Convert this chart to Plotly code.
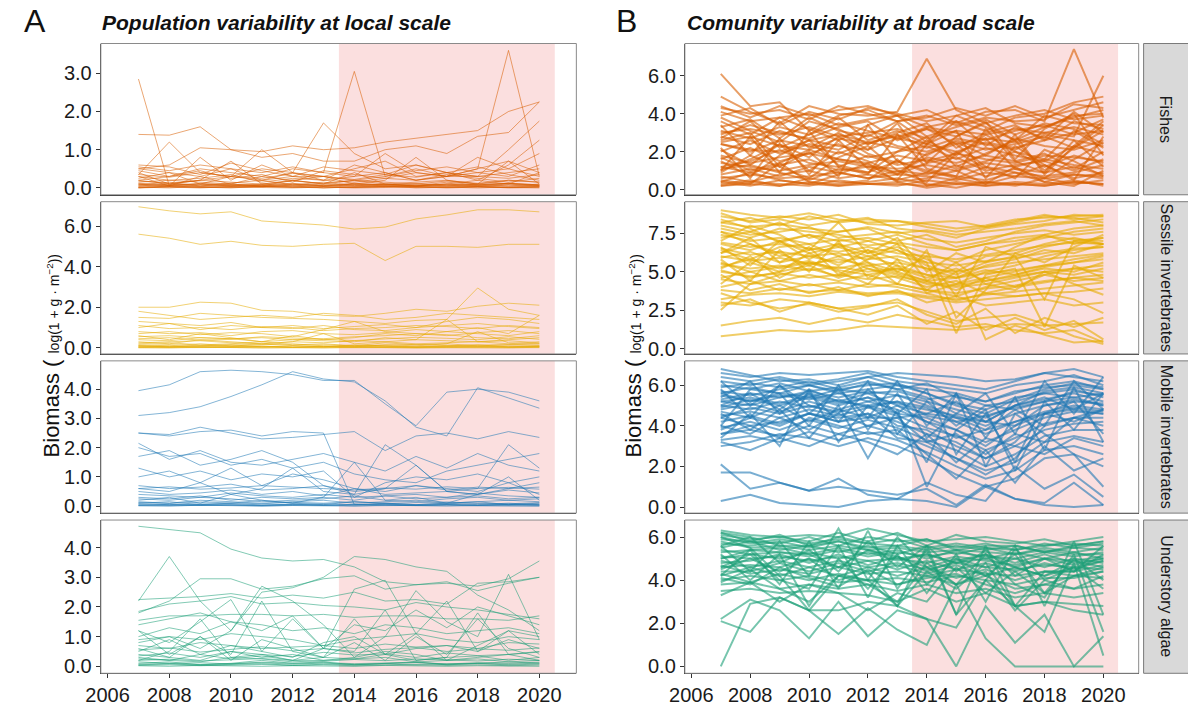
import plotly.graph_objects as go

# ---------------------------------------------------------------- data
YEARS = list(range(2007, 2021))
X_TICKS = [2006, 2008, 2010, 2012, 2014, 2016, 2018, 2020]
MHW_START, MHW_END = 2013.5, 2020.5

GROUPS = ["Fishes", "Sessile invertebrates", "Mobile invertebrates", "Understory algae"]

# population (local) series
FISH_LOCAL = [
    [2.85, 0.05, 0.10, 0.05, 0.10, 0.05, 0.10, 0.05, 0.10, 0.05, 0.10, 0.05, 0.10, 0.05],
    [1.40, 1.38, 1.60, 1.00, 0.95, 1.10, 1.00, 1.05, 1.20, 1.30, 1.40, 1.50, 2.00, 2.25],
    [0.55, 0.45, 0.60, 0.50, 0.40, 0.55, 0.40, 3.05, 0.30, 0.45, 0.55, 0.40, 0.50, 0.30],
    [0.20, 0.10, 0.20, 0.30, 0.20, 0.30, 0.20, 0.30, 0.40, 0.20, 0.30, 0.50, 3.60, 0.30],
    [0.35, 1.20, 0.40, 0.30, 0.50, 0.40, 1.70, 0.90, 0.50, 0.60, 0.40, 0.30, 1.00, 1.75],
    [0.50, 0.60, 1.05, 1.00, 0.80, 0.90, 0.70, 0.70, 1.00, 1.10, 0.90, 1.35, 1.45, 2.25],
    [0.30, 0.05, 0.80, 0.20, 0.60, 0.30, 0.30, 0.50, 0.70, 0.30, 0.40, 0.20, 0.60, 1.25],
    [0.45, 0.30, 0.50, 0.40, 0.30, 0.50, 0.40, 0.30, 0.90, 0.40, 0.30, 0.80, 0.50, 0.90],
    [0.25, 0.40, 0.30, 0.50, 0.20, 0.40, 0.30, 0.20, 0.30, 0.50, 0.30, 0.40, 0.30, 0.60],
    [0.15, 0.20, 0.15, 0.10, 0.30, 0.20, 0.10, 0.20, 0.10, 0.15, 0.20, 0.10, 0.20, 0.15],
    [0.60, 0.55, 0.35, 0.65, 0.45, 0.30, 0.55, 0.45, 0.35, 0.60, 0.40, 0.55, 0.35, 0.20],
    [0.10, 0.05, 0.30, 0.10, 0.05, 0.20, 0.10, 0.40, 0.10, 0.05, 0.10, 0.20, 0.10, 0.40],
    [0.05, 0.10, 0.05, 0.10, 0.05, 0.10, 0.05, 0.10, 0.05, 0.10, 0.05, 0.10, 0.05, 0.10],
    [0.30, 0.20, 0.25, 0.35, 0.15, 0.25, 0.20, 0.15, 0.25, 0.20, 0.35, 0.25, 0.15, 0.25],
    [0.00, 0.02, 0.00, 0.03, 0.01, 0.00, 0.02, 0.00, 0.01, 0.03, 0.00, 0.02, 0.01, 0.00],
    [0.02, 0.00, 0.04, 0.01, 0.03, 0.05, 0.00, 0.02, 0.04, 0.01, 0.02, 0.00, 0.03, 0.05],
    [0.40, 0.10, 0.20, 0.70, 0.10, 0.20, 0.30, 0.10, 0.20, 0.80, 0.20, 0.10, 0.70, 0.10],
    [0.08, 0.15, 0.05, 0.12, 0.20, 0.08, 0.15, 0.06, 0.10, 0.05, 0.15, 0.08, 0.12, 0.06],
    [0.50, 0.40, 0.10, 0.30, 1.00, 0.40, 0.20, 0.60, 0.40, 0.20, 0.30, 0.50, 0.70, 0.40],
    [0.20, 0.30, 0.45, 0.25, 0.35, 0.15, 0.45, 0.35, 0.25, 0.40, 0.30, 0.30, 0.40, 0.50],
    [0.00, 0.05, 0.02, 0.00, 0.04, 0.02, 0.00, 0.03, 0.05, 0.00, 0.02, 0.04, 0.00, 0.02],
    [0.12, 0.08, 0.10, 0.06, 0.09, 0.12, 0.05, 0.10, 0.08, 0.11, 0.07, 0.09, 0.12, 0.08],
    [0.03, 0.05, 0.02, 0.04, 0.06, 0.03, 0.05, 0.02, 0.04, 0.06, 0.03, 0.05, 0.02, 0.04],
    [0.07, 0.04, 0.08, 0.05, 0.03, 0.07, 0.04, 0.08, 0.05, 0.03, 0.07, 0.04, 0.08, 0.05],
    [0.18, 0.12, 0.20, 0.15, 0.10, 0.18, 0.12, 0.20, 0.15, 0.10, 0.18, 0.12, 0.20, 0.15],
    [0.01, 0.03, 0.01, 0.02, 0.04, 0.01, 0.03, 0.01, 0.02, 0.04, 0.01, 0.03, 0.01, 0.02],
    [0.35, 0.28, 0.40, 0.30, 0.25, 0.38, 0.30, 0.22, 0.35, 0.28, 0.40, 0.30, 0.25, 0.35],
    [0.10, 0.06, 0.12, 0.08, 0.05, 0.10, 0.06, 0.12, 0.08, 0.05, 0.10, 0.06, 0.12, 0.08],
]

SESSILE_LOCAL = [
    [6.95, 6.75, 6.60, 6.70, 6.25, 6.15, 6.05, 5.85, 5.95, 6.35, 6.55, 6.80, 6.80, 6.70],
    [5.60, 5.40, 5.10, 5.25, 5.05, 5.00, 5.10, 5.15, 4.30, 5.00, 5.00, 4.95, 5.10, 5.10],
    [2.00, 2.00, 2.25, 2.20, 1.85, 1.80, 1.60, 1.55, 1.70, 1.90, 1.80, 2.05, 2.20, 2.10],
    [1.50, 1.45, 1.70, 1.60, 1.50, 1.45, 1.40, 1.30, 1.20, 1.35, 1.40, 2.95, 1.90, 1.60],
    [1.00, 1.20, 0.90, 1.10, 1.00, 0.95, 1.10, 0.90, 0.85, 1.00, 1.30, 1.50, 1.40, 1.20],
    [0.70, 0.80, 0.65, 0.75, 0.70, 0.55, 0.90, 1.30, 0.80, 0.70, 0.60, 0.75, 0.85, 0.70],
    [0.40, 0.35, 0.50, 0.45, 0.30, 0.40, 0.35, 0.30, 0.50, 0.40, 0.35, 0.30, 0.40, 0.50],
    [0.20, 0.25, 0.15, 0.20, 0.30, 0.15, 0.20, 0.10, 0.25, 0.15, 0.20, 0.80, 0.25, 0.20],
    [0.10, 0.05, 0.10, 0.15, 0.05, 0.10, 0.05, 0.15, 0.10, 0.05, 0.10, 0.15, 0.05, 0.10],
    [0.02, 0.00, 0.03, 0.01, 0.00, 0.02, 0.00, 0.03, 0.01, 0.00, 0.02, 0.01, 0.00, 0.03],
    [0.55, 0.60, 0.50, 0.45, 0.50, 0.40, 0.45, 0.55, 0.60, 0.70, 0.65, 0.50, 0.45, 0.60],
    [1.30, 1.20, 1.10, 1.25, 1.00, 1.10, 0.95, 1.05, 1.15, 1.00, 1.10, 1.20, 1.05, 0.95],
    [0.30, 0.20, 0.40, 0.30, 0.20, 0.30, 0.70, 0.20, 0.30, 0.40, 1.40, 0.30, 0.20, 0.30],
    [0.80, 0.70, 0.75, 0.60, 0.80, 0.85, 0.70, 0.65, 0.75, 0.90, 0.80, 0.70, 0.60, 0.80],
    [0.15, 0.10, 0.20, 0.10, 0.15, 0.20, 0.10, 0.05, 0.15, 0.10, 0.20, 0.10, 0.15, 0.20],
    [0.05, 0.08, 0.04, 0.06, 0.09, 0.03, 0.07, 0.05, 0.08, 0.04, 0.06, 0.09, 0.05, 0.07],
    [0.25, 0.30, 0.35, 0.25, 0.20, 0.30, 0.25, 0.35, 0.30, 0.20, 0.25, 0.30, 0.35, 0.25],
    [0.00, 0.01, 0.00, 0.02, 0.00, 0.01, 0.00, 0.02, 0.01, 0.00, 0.01, 0.02, 0.00, 0.01],
    [0.60, 0.40, 0.70, 0.50, 0.30, 0.60, 0.40, 0.50, 0.70, 0.60, 0.80, 1.00, 0.70, 1.60],
    [1.80, 1.60, 1.40, 1.50, 1.60, 1.50, 1.70, 1.60, 1.40, 1.50, 1.70, 1.60, 1.50, 1.40],
    [0.04, 0.02, 0.05, 0.03, 0.06, 0.02, 0.04, 0.03, 0.05, 0.02, 0.04, 0.06, 0.03, 0.05],
    [0.12, 0.16, 0.10, 0.14, 0.18, 0.12, 0.15, 0.10, 0.13, 0.17, 0.11, 0.14, 0.16, 0.12],
    [0.45, 0.50, 0.38, 0.42, 0.55, 0.48, 0.40, 0.36, 0.44, 0.52, 0.47, 0.40, 0.55, 0.42],
    [0.08, 0.06, 0.09, 0.07, 0.05, 0.08, 0.06, 0.09, 0.07, 0.05, 0.08, 0.06, 0.09, 0.07],
    [1.10, 0.95, 1.00, 0.90, 1.05, 1.00, 0.85, 0.95, 1.00, 1.10, 1.05, 0.95, 1.10, 1.00],
]

MOBILE_LOCAL = [
    [3.95, 4.15, 4.60, 4.65, 4.60, 4.50, 4.30, 4.30, 3.50, 2.75, 3.90, 4.00, 3.90, 3.60],
    [3.10, 3.20, 3.40, 3.75, 4.15, 4.60, 4.35, 4.25, 3.60, 2.70, 2.40, 4.05, 3.70, 3.35],
    [2.50, 2.40, 2.55, 2.60, 2.40, 2.55, 2.50, 0.05, 0.10, 0.05, 0.10, 0.05, 0.10, 0.05],
    [2.50, 2.45, 2.70, 2.50, 2.30, 2.35, 2.45, 2.55, 1.90, 2.40, 2.50, 2.30, 2.55, 2.35],
    [2.15, 1.60, 1.90, 1.50, 1.40, 1.60, 1.80, 1.50, 1.20, 1.70, 1.30, 1.80, 1.40, 1.20],
    [1.70, 1.90, 1.40, 1.60, 1.90, 1.50, 0.70, 0.40, 2.10, 1.40, 0.50, 0.60, 2.10, 1.30],
    [1.30, 1.00, 1.20, 0.90, 1.10, 1.00, 1.20, 0.30, 0.80, 1.00, 0.90, 1.10, 0.80, 1.00],
    [0.70, 0.60, 0.65, 0.75, 0.55, 0.60, 0.70, 0.50, 0.60, 0.70, 0.55, 0.65, 0.60, 0.65],
    [0.50, 0.40, 0.45, 0.55, 0.40, 0.50, 0.35, 0.60, 0.40, 0.45, 0.50, 0.40, 0.55, 0.45],
    [0.30, 0.25, 0.35, 0.20, 0.30, 0.25, 0.30, 0.20, 0.35, 0.25, 0.30, 0.35, 0.25, 0.30],
    [0.10, 0.15, 0.05, 0.10, 0.20, 0.10, 0.05, 0.15, 0.10, 0.05, 0.10, 0.15, 0.05, 0.10],
    [0.02, 0.00, 0.03, 0.01, 0.00, 0.02, 0.01, 0.00, 0.03, 0.01, 0.00, 0.02, 0.01, 0.00],
    [0.20, 0.30, 0.10, 0.40, 0.20, 0.10, 0.30, 1.50, 0.20, 0.30, 0.10, 0.40, 1.00, 0.20],
    [0.60, 0.50, 0.80, 0.40, 0.60, 1.30, 0.50, 0.40, 0.60, 1.40, 0.50, 0.40, 0.60, 0.80],
    [0.05, 0.03, 0.06, 0.04, 0.02, 0.05, 0.03, 0.06, 0.04, 0.02, 0.05, 0.03, 0.06, 0.04],
    [0.40, 0.35, 0.30, 0.45, 0.35, 0.30, 0.40, 0.30, 0.35, 0.40, 0.30, 0.45, 0.35, 0.30],
    [0.15, 0.10, 0.20, 0.15, 0.10, 0.15, 0.20, 0.10, 0.15, 0.20, 0.10, 0.15, 0.20, 0.15],
    [1.00, 1.20, 0.80, 1.30, 0.70, 1.10, 0.90, 0.60, 0.50, 0.70, 0.60, 0.50, 0.80, 0.40],
    [0.08, 0.05, 0.07, 0.09, 0.04, 0.06, 0.08, 0.05, 0.07, 0.03, 0.06, 0.08, 0.04, 0.07],
    [0.25, 0.20, 0.30, 0.25, 0.15, 0.20, 0.25, 0.35, 0.20, 0.15, 0.25, 0.30, 0.20, 0.25],
    [0.03, 0.06, 0.02, 0.05, 0.03, 0.07, 0.02, 0.04, 0.06, 0.03, 0.05, 0.02, 0.06, 0.03],
    [0.12, 0.09, 0.14, 0.10, 0.08, 0.13, 0.10, 0.15, 0.09, 0.12, 0.14, 0.10, 0.08, 0.12],
    [0.60, 0.66, 0.58, 0.62, 0.70, 0.64, 0.60, 0.55, 0.62, 0.58, 0.66, 0.60, 0.64, 0.58],
    [0.01, 0.02, 0.01, 0.03, 0.01, 0.02, 0.04, 0.01, 0.02, 0.01, 0.03, 0.01, 0.02, 0.01],
    [2.00, 1.70, 1.80, 1.40, 1.60, 1.30, 1.50, 1.10, 0.90, 0.80, 1.20, 1.40, 1.60, 1.80],
]

ALGAE_LOCAL = [
    [4.72, 4.60, 4.50, 3.95, 3.65, 3.55, 3.60, 3.35, 2.85, 2.75, 2.85, 2.55, 2.80, 3.00],
    [2.20, 3.70, 2.20, 1.20, 2.50, 2.65, 3.00, 3.70, 3.60, 3.35, 3.20, 2.40, 1.90, 1.20],
    [1.80, 2.20, 2.95, 2.95, 2.60, 2.70, 2.95, 3.05, 2.60, 2.75, 2.80, 2.70, 2.95, 3.55],
    [2.25, 2.30, 2.35, 2.45, 2.30, 2.40, 2.30, 2.50, 2.20, 2.25, 2.10, 2.80, 2.85, 3.00],
    [1.55, 1.70, 1.70, 1.75, 1.75, 1.70, 1.75, 1.65, 1.70, 1.70, 1.60, 1.60, 1.55, 1.70],
    [1.85, 2.10, 2.20, 2.35, 2.10, 2.15, 2.05, 2.00, 1.90, 2.15, 2.00, 1.90, 1.75, 1.60],
    [0.90, 1.00, 0.60, 1.20, 2.70, 2.20, 1.40, 0.30, 1.00, 2.55, 1.50, 1.00, 3.10, 0.90],
    [1.20, 0.80, 1.50, 2.25, 0.50, 1.60, 0.60, 2.60, 2.90, 1.10, 2.20, 0.50, 1.20, 1.00],
    [0.50, 0.90, 0.40, 0.70, 0.50, 0.30, 0.80, 1.00, 0.40, 0.60, 0.70, 0.50, 0.90, 0.60],
    [0.30, 0.20, 0.40, 0.25, 0.35, 0.20, 0.30, 0.25, 0.40, 0.20, 0.30, 0.35, 0.20, 0.30],
    [0.10, 0.15, 0.05, 0.10, 0.20, 0.10, 0.15, 0.05, 0.10, 0.15, 0.05, 0.10, 0.15, 0.10],
    [0.02, 0.00, 0.03, 0.01, 0.00, 0.02, 0.01, 0.00, 0.03, 0.01, 0.00, 0.02, 0.01, 0.00],
    [1.00, 1.30, 1.10, 1.50, 1.40, 1.20, 1.30, 1.10, 1.40, 1.30, 1.10, 1.20, 1.30, 1.10],
    [0.70, 0.60, 0.80, 0.70, 0.60, 0.65, 0.70, 0.60, 0.75, 0.65, 0.70, 0.60, 0.80, 0.75],
    [0.20, 0.50, 1.60, 0.30, 0.40, 0.20, 0.60, 0.50, 1.90, 0.20, 0.30, 1.80, 0.40, 0.50],
    [0.40, 0.30, 0.20, 0.50, 0.30, 0.40, 0.20, 0.30, 0.50, 0.40, 0.20, 0.30, 0.40, 0.20],
    [0.05, 0.08, 0.04, 0.06, 0.09, 0.03, 0.07, 0.05, 0.08, 0.04, 0.06, 0.09, 0.05, 0.07],
    [1.40, 1.60, 1.80, 1.50, 1.20, 1.70, 0.60, 1.40, 1.20, 1.90, 1.30, 2.00, 1.70, 1.40],
    [0.25, 0.20, 0.15, 0.30, 0.25, 0.15, 0.20, 0.25, 0.30, 0.15, 0.20, 0.25, 0.15, 0.20],
    [0.15, 0.10, 0.12, 0.08, 0.14, 0.10, 0.12, 0.09, 0.11, 0.13, 0.08, 0.12, 0.10, 0.14],
    [0.60, 0.30, 1.00, 0.40, 2.20, 0.50, 0.30, 0.80, 0.20, 1.00, 0.40, 1.60, 0.60, 0.30],
    [0.80, 1.00, 0.90, 1.10, 1.00, 0.90, 0.70, 0.90, 1.00, 1.10, 0.90, 0.80, 1.00, 0.90],
    [0.03, 0.05, 0.02, 0.04, 0.06, 0.03, 0.05, 0.02, 0.04, 0.06, 0.03, 0.05, 0.02, 0.04],
    [0.20, 0.24, 0.18, 0.22, 0.26, 0.20, 0.17, 0.23, 0.19, 0.25, 0.21, 0.18, 0.24, 0.20],
    [0.35, 0.45, 0.30, 0.50, 0.40, 0.33, 0.47, 0.38, 0.42, 0.30, 0.45, 0.36, 0.40, 0.48],
    [0.07, 0.10, 0.06, 0.09, 0.12, 0.07, 0.11, 0.06, 0.09, 0.12, 0.08, 0.10, 0.07, 0.11],
    [1.20, 0.40, 1.00, 0.20, 0.90, 0.60, 0.30, 1.60, 0.40, 1.10, 0.20, 0.70, 1.20, 0.40],
    [0.55, 0.62, 0.48, 0.58, 0.66, 0.52, 0.60, 0.45, 0.57, 0.63, 0.50, 0.59, 0.54, 0.62],
]

# community (broad) series
FISH_BROAD = [
    [6.10, 4.40, 4.60, 3.10, 3.90, 4.20, 3.60, 3.90, 3.40, 3.80, 3.60, 3.70, 4.50, 4.30],
    [4.90, 4.10, 3.50, 4.40, 4.00, 3.90, 4.10, 6.90, 4.20, 3.50, 3.90, 4.20, 3.70, 3.90],
    [4.40, 3.80, 4.40, 3.90, 4.20, 4.40, 3.90, 4.20, 3.50, 4.10, 4.20, 3.60, 7.40, 3.80],
    [3.00, 3.20, 2.90, 3.30, 2.80, 3.00, 3.20, 2.70, 3.10, 2.90, 3.20, 3.00, 2.80, 6.00],
    [2.80, 2.40, 3.10, 2.60, 2.90, 2.50, 2.80, 3.20, 2.40, 2.70, 2.50, 3.00, 3.30, 2.90],
    [2.40, 2.00, 2.60, 2.30, 1.90, 2.50, 2.20, 1.80, 2.60, 2.10, 2.40, 2.80, 2.20, 3.40],
    [1.60, 2.20, 1.50, 1.90, 2.40, 1.70, 2.00, 2.30, 1.60, 2.20, 1.80, 1.50, 2.30, 1.90],
    [1.20, 1.50, 2.10, 1.40, 1.20, 1.80, 1.30, 1.60, 1.10, 1.50, 2.00, 1.20, 1.80, 1.40],
    [0.80, 1.10, 0.70, 1.20, 0.90, 0.60, 1.00, 0.80, 1.30, 0.70, 1.10, 0.90, 1.20, 0.80],
    [0.30, 0.50, 0.20, 0.60, 0.40, 0.30, 0.20, 0.50, 0.30, 0.40, 0.20, 0.60, 0.30, 0.50],
    [1.00, 2.80, 0.90, 3.10, 1.20, 0.80, 2.90, 1.10, 0.70, 3.20, 1.50, 0.90, 2.60, 1.20],
    [2.20, 0.60, 2.70, 0.80, 2.60, 1.10, 0.50, 2.40, 3.10, 0.60, 2.30, 1.30, 0.50, 2.80],
    [3.40, 1.80, 3.60, 2.20, 3.00, 2.10, 3.50, 1.40, 2.80, 3.60, 1.60, 3.20, 4.00, 1.80],
    [0.50, 0.30, 1.40, 0.40, 0.30, 0.50, 1.60, 0.20, 0.60, 0.30, 1.20, 0.40, 0.20, 1.00],
    [1.40, 1.20, 1.00, 1.30, 1.50, 1.20, 1.10, 1.30, 1.00, 1.40, 1.20, 1.60, 1.30, 1.10],
    [2.00, 2.60, 1.90, 2.40, 2.10, 2.90, 2.30, 2.00, 2.50, 1.80, 2.70, 2.30, 2.10, 2.60],
    [0.20, 0.40, 0.30, 0.20, 0.50, 0.30, 0.40, 0.10, 0.30, 0.20, 0.40, 0.30, 0.50, 0.20],
    [3.80, 3.10, 2.50, 3.60, 3.20, 2.40, 3.00, 3.50, 2.20, 3.00, 3.40, 2.60, 3.60, 3.20],
    [1.00, 1.60, 2.40, 1.00, 2.00, 1.50, 0.80, 1.90, 2.40, 1.20, 0.60, 2.10, 1.50, 0.70],
    [2.60, 3.00, 1.20, 2.00, 0.70, 3.40, 1.50, 0.90, 2.00, 1.10, 2.90, 0.80, 2.30, 3.60],
    [0.60, 0.80, 0.60, 0.70, 0.90, 0.60, 0.80, 0.70, 0.50, 0.90, 0.70, 0.60, 0.80, 0.70],
    [1.80, 1.40, 1.70, 1.90, 1.60, 1.40, 1.80, 1.50, 1.90, 1.60, 1.40, 1.80, 1.70, 1.50],
    [3.10, 2.70, 3.30, 2.90, 3.50, 3.10, 2.70, 3.30, 3.00, 2.60, 3.10, 3.40, 2.90, 3.10],
    [0.40, 0.20, 0.50, 0.30, 0.20, 0.40, 0.60, 0.30, 0.10, 0.40, 0.30, 0.20, 0.40, 0.30],
    [2.90, 3.40, 3.00, 2.70, 3.30, 3.60, 2.60, 3.20, 2.80, 3.50, 2.60, 3.30, 3.80, 4.20],
    [1.20, 0.90, 1.30, 1.60, 1.00, 1.20, 0.80, 1.40, 1.70, 1.00, 1.30, 1.50, 1.00, 1.60],
    [4.10, 3.60, 3.80, 4.00, 3.40, 3.70, 3.90, 3.30, 3.60, 3.10, 3.80, 4.00, 4.60, 4.90],
    [2.40, 2.10, 2.00, 2.60, 2.30, 2.10, 2.70, 2.40, 2.00, 2.50, 2.20, 2.60, 3.00, 3.70],
    [0.90, 1.80, 1.20, 0.60, 1.70, 2.30, 1.00, 0.40, 1.90, 2.70, 1.10, 0.60, 1.60, 2.50],
    [3.60, 2.90, 3.80, 3.20, 2.60, 3.40, 3.90, 2.80, 3.30, 3.70, 2.90, 3.50, 3.20, 2.40],
    [2.70, 3.60, 2.20, 2.90, 3.80, 2.60, 3.10, 2.40, 3.60, 2.30, 3.30, 2.70, 4.10, 3.00],
    [1.50, 0.70, 1.80, 2.60, 1.30, 0.90, 2.00, 2.80, 1.20, 1.90, 2.60, 1.00, 2.20, 3.10],
    [0.40, 0.90, 0.50, 0.30, 0.80, 1.40, 0.40, 0.60, 1.00, 0.30, 0.70, 1.30, 0.60, 0.90],
    [2.10, 1.30, 2.40, 1.70, 2.80, 1.90, 1.40, 2.60, 1.80, 2.90, 2.00, 1.60, 3.10, 2.20],
    [4.30, 4.00, 4.20, 3.70, 4.40, 4.00, 3.60, 3.80, 4.30, 3.90, 4.40, 3.80, 4.20, 4.60],
    [3.30, 3.70, 2.70, 3.80, 3.10, 2.80, 3.60, 2.50, 3.90, 3.30, 2.60, 3.90, 3.50, 3.40],
    [1.10, 1.30, 0.90, 0.50, 1.10, 0.90, 1.50, 1.00, 0.60, 1.20, 0.90, 0.70, 0.90, 1.30],
    [0.20, 0.30, 0.20, 0.40, 0.20, 0.30, 0.30, 0.20, 0.40, 0.20, 0.30, 0.20, 0.40, 0.30],
    [2.50, 2.80, 2.30, 2.10, 2.70, 2.40, 2.90, 2.20, 2.70, 2.40, 2.10, 2.90, 2.60, 2.30],
    [1.70, 1.00, 1.40, 2.10, 1.60, 1.30, 0.90, 1.70, 1.40, 1.80, 1.50, 1.90, 1.10, 2.00],
    [0.70, 0.40, 0.80, 1.00, 0.60, 0.80, 0.50, 0.90, 0.70, 0.50, 0.90, 0.40, 0.80, 0.60],
    [3.90, 4.30, 3.40, 4.10, 3.70, 4.30, 4.00, 3.60, 3.90, 4.30, 3.50, 3.30, 3.90, 4.00],
]

SESSILE_BROAD = [
    [9.00, 8.70, 8.50, 8.80, 8.40, 8.20, 8.30, 8.10, 7.80, 8.00, 8.40, 8.50, 8.60, 8.70],
    [8.60, 8.30, 8.60, 8.40, 8.70, 8.10, 8.00, 8.20, 8.30, 7.90, 8.20, 8.60, 8.50, 8.20],
    [8.20, 7.90, 8.10, 7.80, 7.60, 7.90, 7.50, 7.70, 7.40, 7.60, 7.80, 8.10, 8.30, 8.00],
    [7.80, 7.40, 7.60, 7.90, 7.20, 7.40, 7.60, 7.10, 6.90, 7.20, 7.50, 7.70, 7.40, 7.60],
    [7.40, 7.00, 7.20, 6.80, 7.10, 6.70, 6.90, 6.60, 6.40, 6.80, 7.00, 7.30, 7.10, 7.00],
    [6.90, 6.60, 6.80, 6.50, 6.30, 6.60, 6.20, 6.00, 5.80, 6.10, 6.40, 6.70, 6.90, 6.80],
    [6.50, 6.10, 6.30, 6.00, 6.20, 5.80, 6.00, 5.60, 5.40, 5.70, 5.90, 6.20, 6.50, 6.60],
    [6.00, 5.70, 5.90, 5.50, 5.80, 5.40, 5.60, 5.20, 5.00, 5.30, 5.60, 5.80, 6.00, 6.20],
    [5.50, 5.20, 5.40, 5.10, 5.30, 5.00, 5.20, 4.80, 4.60, 4.90, 5.10, 5.40, 5.60, 5.80],
    [5.00, 4.70, 4.90, 4.60, 4.80, 4.50, 4.70, 4.30, 4.10, 4.40, 4.70, 5.00, 5.20, 5.40],
    [4.50, 4.20, 4.40, 4.10, 4.30, 4.00, 4.20, 3.80, 3.60, 3.90, 4.10, 4.40, 4.60, 4.80],
    [3.80, 3.60, 3.90, 3.70, 3.80, 3.60, 3.70, 3.40, 3.20, 3.50, 3.70, 3.90, 4.10, 4.30],
    [3.20, 3.50, 3.60, 3.40, 3.70, 3.50, 3.60, 3.30, 3.00, 3.20, 3.40, 3.60, 3.70, 3.90],
    [2.50, 4.20, 4.80, 5.20, 4.70, 5.40, 4.90, 4.40, 4.60, 5.10, 4.80, 5.30, 5.60, 6.00],
    [0.80, 1.00, 1.20, 1.10, 1.20, 1.50, 1.40, 1.30, 1.20, 1.40, 1.60, 1.50, 1.60, 1.70],
    [7.60, 6.80, 6.20, 5.40, 6.00, 5.20, 4.60, 4.00, 4.40, 3.60, 3.40, 3.60, 3.20, 2.30],
    [8.40, 7.80, 6.90, 7.40, 6.60, 7.00, 6.40, 5.60, 1.00, 4.80, 5.20, 1.40, 5.40, 4.60],
    [6.20, 7.20, 5.60, 6.60, 4.80, 5.80, 6.80, 4.40, 5.60, 4.20, 3.80, 5.00, 4.20, 3.50],
    [5.80, 4.40, 6.40, 5.00, 7.00, 4.60, 5.40, 3.80, 5.00, 0.60, 1.50, 0.90, 0.40, 0.50],
    [4.20, 5.60, 5.00, 6.20, 5.40, 6.40, 5.00, 6.00, 3.40, 6.60, 6.00, 3.20, 7.00, 6.80],
    [7.00, 8.00, 7.40, 6.40, 8.20, 6.20, 7.20, 5.00, 6.20, 5.60, 6.60, 7.40, 6.80, 7.20],
    [3.00, 2.80, 3.20, 3.00, 2.60, 2.80, 3.00, 2.40, 1.80, 2.00, 2.20, 1.60, 0.80, 0.30],
    [5.20, 6.00, 4.60, 5.60, 5.00, 4.20, 5.80, 3.60, 4.20, 4.60, 4.00, 4.80, 4.40, 4.60],
    [6.60, 5.40, 7.00, 5.80, 6.80, 5.60, 4.20, 6.40, 2.00, 3.80, 6.20, 5.60, 6.60, 7.40],
    [4.80, 3.80, 4.20, 3.60, 4.00, 3.40, 3.80, 3.00, 3.40, 2.80, 3.00, 3.20, 2.80, 3.00],
    [8.00, 7.60, 8.20, 7.20, 7.60, 7.80, 7.00, 7.40, 6.60, 7.00, 7.60, 8.00, 8.20, 8.40],
    [3.60, 3.00, 2.60, 2.90, 2.40, 2.70, 3.20, 2.20, 1.60, 2.60, 1.00, 2.00, 1.40, 2.00],
    [5.60, 5.00, 5.30, 5.70, 5.10, 4.80, 5.20, 4.60, 5.20, 4.40, 4.80, 5.20, 5.00, 5.60],
    [8.80, 8.20, 8.40, 8.00, 8.30, 8.50, 7.80, 7.60, 7.20, 7.80, 8.10, 8.30, 8.70, 8.60],
    [7.20, 7.60, 7.00, 7.40, 7.00, 7.20, 6.80, 6.20, 5.60, 6.40, 6.80, 7.20, 7.60, 7.80],
    [6.80, 6.40, 7.00, 6.20, 6.60, 6.00, 6.40, 5.40, 4.80, 5.60, 6.00, 6.60, 7.00, 7.20],
    [5.90, 6.30, 5.60, 6.00, 5.60, 6.00, 5.40, 4.80, 4.20, 5.00, 5.40, 6.00, 6.40, 6.60],
    [5.30, 5.80, 5.20, 5.60, 5.20, 5.60, 5.00, 4.40, 3.80, 4.60, 5.00, 5.40, 5.80, 6.10],
    [4.60, 5.00, 4.40, 4.80, 4.40, 4.80, 4.20, 3.80, 3.40, 4.00, 4.40, 4.80, 5.20, 5.00],
    [4.00, 4.40, 3.80, 4.20, 3.80, 4.20, 4.00, 3.60, 3.10, 3.60, 4.00, 4.30, 4.60, 4.40],
    [7.60, 7.20, 7.80, 7.60, 7.40, 7.00, 7.40, 6.80, 6.40, 6.80, 7.20, 7.40, 7.80, 8.00],
    [6.40, 5.80, 6.60, 6.80, 6.00, 6.40, 5.80, 5.20, 4.60, 5.40, 5.80, 6.40, 6.20, 6.80],
    [5.10, 4.60, 5.00, 5.40, 4.60, 5.20, 4.80, 4.20, 4.00, 4.20, 4.60, 5.00, 4.80, 5.20],
    [2.80, 3.20, 2.40, 3.00, 2.60, 2.20, 2.80, 1.60, 2.40, 1.20, 2.00, 1.20, 1.80, 0.60],
    [1.50, 1.80, 2.00, 1.60, 2.00, 1.70, 2.20, 1.80, 1.40, 1.60, 1.20, 1.00, 1.20, 0.40],
    [8.20, 8.50, 8.00, 8.60, 8.20, 8.40, 8.30, 7.90, 7.60, 7.90, 8.30, 8.70, 8.40, 8.60],
    [6.20, 6.80, 6.00, 6.40, 6.80, 6.20, 6.60, 5.80, 5.00, 6.00, 6.20, 6.80, 7.20, 6.80],
]

MOBILE_BROAD = [
    [6.80, 6.50, 6.20, 6.30, 6.00, 6.40, 6.60, 6.50, 6.40, 6.20, 6.30, 6.60, 6.40, 6.20],
    [6.40, 6.20, 6.40, 6.10, 6.30, 6.60, 6.20, 6.00, 5.80, 5.60, 6.00, 6.20, 6.50, 6.00],
    [6.00, 5.80, 6.10, 5.70, 5.90, 6.20, 5.80, 6.10, 5.40, 5.20, 5.70, 5.90, 6.00, 5.80],
    [5.70, 5.50, 5.80, 6.00, 5.60, 5.80, 6.00, 5.60, 5.10, 4.80, 5.40, 5.60, 5.80, 5.40],
    [5.50, 5.20, 5.50, 5.30, 5.60, 5.20, 5.50, 5.20, 4.80, 4.40, 5.00, 5.30, 5.60, 5.20],
    [5.20, 5.40, 5.10, 5.50, 5.10, 5.40, 5.10, 4.80, 4.50, 4.00, 4.60, 5.00, 5.30, 5.00],
    [5.00, 4.80, 5.20, 4.90, 5.30, 4.90, 5.20, 4.50, 4.20, 3.60, 4.20, 4.70, 5.00, 4.80],
    [4.80, 5.10, 4.70, 5.20, 4.80, 5.20, 4.80, 4.20, 3.80, 3.20, 3.80, 4.40, 4.70, 4.60],
    [4.50, 4.70, 4.40, 4.80, 4.50, 4.90, 4.50, 3.90, 3.50, 2.80, 3.40, 4.10, 4.40, 4.40],
    [4.20, 4.50, 4.10, 4.60, 4.20, 4.60, 4.20, 3.60, 3.20, 2.40, 3.00, 3.80, 4.10, 4.20],
    [3.90, 4.20, 3.80, 4.30, 3.90, 4.30, 3.90, 3.30, 2.80, 2.00, 2.60, 3.50, 3.80, 3.80],
    [3.60, 3.80, 3.50, 4.00, 3.60, 4.00, 3.60, 3.00, 2.40, 1.80, 2.20, 3.20, 3.50, 3.20],
    [3.30, 3.50, 3.20, 3.70, 3.30, 3.70, 3.30, 2.70, 2.00, 1.40, 1.80, 2.80, 3.00, 2.60],
    [3.00, 3.20, 3.60, 3.40, 3.00, 3.40, 3.00, 2.40, 1.60, 1.00, 1.40, 2.40, 2.60, 2.00],
    [2.10, 0.90, 1.20, 0.80, 1.40, 0.60, 0.40, 1.20, 0.60, 0.30, 2.00, 0.90, 1.60, 0.50],
    [1.70, 1.70, 1.20, 0.80, 1.00, 0.80, 0.60, 0.90, 0.10, 1.10, 0.40, 0.20, 1.20, 0.10],
    [0.30, 0.60, 0.20, 0.10, 0.00, 0.30, 0.40, 0.30, 0.00, 1.00, 0.40, 0.10, 0.00, 0.10],
    [6.20, 5.00, 6.00, 4.60, 5.80, 4.40, 6.20, 4.00, 5.60, 3.40, 5.40, 2.80, 5.90, 3.20],
    [5.40, 6.20, 4.60, 5.60, 4.20, 5.80, 4.60, 5.80, 2.60, 4.60, 2.20, 5.20, 3.80, 5.60],
    [4.00, 5.80, 5.60, 4.00, 6.00, 3.80, 5.60, 3.40, 4.60, 5.60, 3.60, 6.20, 4.60, 6.40],
    [5.80, 4.40, 6.00, 5.00, 4.60, 6.20, 3.60, 5.20, 4.00, 5.00, 4.80, 4.00, 6.20, 4.80],
    [3.40, 4.60, 3.00, 5.80, 3.20, 5.00, 4.60, 2.20, 5.60, 2.00, 4.60, 3.60, 2.60, 1.00],
    [4.60, 3.80, 4.80, 3.40, 5.00, 2.40, 4.80, 1.00, 3.80, 4.80, 1.80, 4.60, 5.20, 3.60],
    [5.60, 5.20, 5.60, 5.40, 5.80, 5.60, 5.70, 5.30, 5.50, 5.00, 5.20, 5.60, 5.40, 5.60],
    [4.40, 4.00, 4.20, 4.60, 4.20, 4.40, 4.40, 4.60, 4.40, 4.20, 4.00, 4.60, 4.80, 4.60],
    [3.20, 2.80, 3.40, 3.00, 3.60, 3.20, 2.60, 3.60, 2.20, 3.40, 3.00, 2.60, 3.40, 3.00],
    [6.60, 6.40, 6.60, 6.50, 6.60, 6.70, 6.40, 6.20, 6.00, 5.80, 6.20, 6.60, 6.80, 6.40],
    [5.90, 6.10, 5.90, 6.20, 5.80, 6.00, 6.10, 5.60, 5.00, 4.60, 5.30, 5.80, 6.10, 5.90],
    [5.30, 5.60, 5.40, 5.70, 5.40, 5.70, 5.50, 5.00, 4.40, 3.80, 4.80, 5.20, 5.70, 5.50],
    [4.90, 5.30, 5.00, 5.40, 5.00, 5.40, 4.60, 4.40, 3.80, 3.00, 4.00, 5.00, 5.20, 5.10],
    [4.40, 4.90, 4.60, 5.00, 4.70, 5.00, 4.00, 3.80, 3.00, 2.40, 3.20, 4.60, 4.90, 4.70],
    [3.80, 4.40, 4.00, 4.60, 4.40, 4.60, 3.40, 3.20, 2.40, 1.60, 2.40, 4.00, 4.40, 4.00],
    [6.20, 6.00, 6.30, 6.00, 6.20, 6.40, 6.00, 5.80, 5.60, 5.20, 5.60, 6.00, 6.20, 5.80],
    [5.00, 5.60, 4.80, 5.80, 5.20, 5.60, 5.00, 4.60, 5.20, 4.20, 5.00, 5.40, 4.80, 5.60],
    [4.00, 3.60, 4.40, 3.80, 4.60, 4.00, 4.40, 3.20, 3.60, 2.60, 3.60, 3.20, 4.40, 4.80],
    [5.60, 5.90, 5.60, 6.00, 5.70, 6.10, 5.80, 5.40, 4.60, 4.20, 5.00, 5.70, 5.90, 5.60],
    [3.60, 4.00, 3.40, 4.40, 4.00, 3.60, 3.80, 2.60, 1.40, 2.80, 1.20, 3.00, 1.80, 2.40],
    [4.70, 4.40, 5.00, 4.20, 4.80, 4.40, 5.00, 4.20, 3.40, 3.80, 4.20, 4.60, 4.20, 4.80],
    [5.20, 5.00, 5.40, 5.60, 5.20, 5.00, 5.20, 4.90, 4.20, 4.50, 4.90, 5.20, 5.40, 5.00],
]

ALGAE_BROAD = [
    [6.30, 6.10, 6.00, 6.10, 6.00, 6.40, 6.10, 5.80, 5.90, 6.00, 5.80, 5.60, 5.80, 6.00],
    [6.10, 5.90, 6.00, 5.80, 6.20, 5.80, 6.20, 5.60, 6.10, 5.80, 5.70, 5.90, 5.60, 5.80],
    [5.90, 5.80, 5.70, 6.00, 5.60, 6.00, 5.80, 5.90, 5.50, 5.70, 5.40, 5.60, 5.70, 5.60],
    [5.70, 5.60, 5.80, 5.50, 5.80, 5.50, 5.60, 5.40, 5.60, 5.40, 5.60, 5.30, 5.50, 5.40],
    [5.50, 5.80, 5.40, 5.60, 5.30, 5.60, 5.20, 5.60, 5.20, 5.50, 5.20, 5.40, 5.20, 5.20],
    [5.30, 5.40, 5.50, 5.20, 5.50, 5.20, 5.40, 5.00, 5.40, 5.00, 5.30, 5.00, 5.30, 5.00],
    [5.00, 5.20, 5.00, 5.30, 5.00, 5.30, 4.90, 5.20, 4.80, 5.20, 4.80, 5.20, 4.80, 5.00],
    [4.80, 4.90, 5.20, 4.80, 5.20, 4.70, 5.10, 4.60, 5.00, 4.60, 5.00, 4.60, 5.00, 4.80],
    [4.60, 4.70, 4.60, 5.00, 4.60, 4.90, 4.50, 4.90, 4.50, 4.80, 4.40, 4.80, 4.50, 4.90],
    [4.40, 4.40, 4.80, 4.40, 4.80, 4.40, 4.70, 4.30, 4.70, 4.20, 4.60, 4.20, 4.60, 4.50],
    [4.20, 4.60, 4.20, 4.60, 4.20, 4.60, 4.20, 4.60, 4.10, 4.50, 4.00, 4.40, 4.20, 4.40],
    [4.00, 4.20, 4.00, 4.20, 3.90, 4.00, 3.80, 4.20, 3.80, 4.20, 3.60, 3.80, 3.60, 3.80],
    [3.80, 3.90, 3.60, 3.80, 3.60, 3.80, 3.50, 3.80, 3.40, 3.60, 3.20, 3.40, 3.20, 3.40],
    [3.50, 3.60, 3.40, 3.50, 3.40, 3.30, 3.00, 3.60, 3.00, 3.40, 2.80, 3.00, 2.90, 2.80],
    [0.00, 2.90, 3.20, 2.60, 2.60, 3.00, 2.80, 2.20, 1.80, 4.00, 2.80, 3.00, 2.60, 2.40],
    [2.10, 1.60, 3.20, 2.60, 1.50, 2.70, 1.70, 1.00, 3.80, 1.30, 0.00, 0.00, 0.00, 0.00],
    [2.20, 3.10, 2.60, 1.30, 3.00, 1.40, 2.60, 2.20, 0.00, 2.80, 1.10, 2.40, 0.00, 1.40],
    [6.00, 5.50, 4.20, 2.60, 4.20, 4.00, 2.80, 5.60, 2.40, 5.60, 2.80, 1.60, 4.80, 0.50],
    [5.60, 4.40, 5.80, 4.20, 6.40, 4.00, 6.00, 4.60, 3.80, 5.20, 3.80, 3.20, 5.20, 1.60],
    [4.20, 5.40, 3.80, 5.80, 3.60, 6.30, 3.60, 5.40, 2.40, 4.00, 5.60, 2.80, 5.80, 2.40],
    [5.20, 4.00, 5.20, 2.80, 5.00, 3.60, 5.20, 3.40, 5.20, 3.00, 5.50, 4.00, 3.60, 4.20],
    [4.50, 5.00, 4.40, 5.00, 4.00, 4.40, 2.80, 4.40, 3.60, 4.80, 2.80, 4.40, 4.40, 5.20],
    [3.30, 3.90, 3.00, 3.80, 3.40, 2.60, 3.40, 3.00, 4.60, 3.40, 4.40, 3.40, 4.20, 4.60],
    [6.20, 6.00, 5.60, 5.60, 5.80, 5.40, 5.00, 5.20, 4.80, 5.00, 4.60, 5.00, 4.70, 5.00],
    [6.00, 5.70, 5.90, 5.70, 5.90, 5.70, 5.90, 5.50, 5.70, 5.50, 5.40, 5.70, 5.50, 5.70],
    [5.80, 5.50, 5.60, 5.40, 5.60, 5.40, 5.50, 5.30, 5.40, 5.30, 5.20, 5.50, 5.30, 5.50],
    [5.40, 5.20, 5.30, 5.10, 5.40, 5.10, 5.30, 5.10, 5.30, 5.10, 5.00, 5.30, 5.10, 5.30],
    [5.10, 5.00, 5.10, 4.90, 5.10, 4.90, 5.00, 4.80, 5.10, 4.90, 4.70, 5.00, 4.90, 5.10],
    [4.90, 4.60, 4.90, 4.60, 4.90, 4.60, 4.80, 4.50, 4.80, 4.60, 4.50, 4.70, 4.60, 4.90],
    [4.70, 4.30, 4.50, 4.30, 4.60, 4.30, 4.40, 4.20, 4.50, 4.30, 4.20, 4.40, 4.40, 4.70],
    [4.30, 3.90, 4.30, 4.00, 4.30, 4.00, 4.10, 3.90, 4.20, 4.00, 3.80, 4.10, 4.10, 4.40],
    [5.60, 6.00, 4.80, 5.40, 4.40, 5.80, 4.60, 5.60, 4.40, 5.40, 4.20, 5.00, 4.40, 5.60],
    [4.60, 5.20, 4.00, 3.60, 5.60, 3.20, 5.60, 3.80, 5.00, 4.20, 5.20, 3.40, 5.00, 4.00],
    [6.20, 5.80, 6.10, 5.60, 6.00, 5.70, 5.60, 5.90, 5.40, 5.60, 5.60, 5.30, 5.60, 5.80],
    [3.90, 4.50, 3.60, 3.00, 4.20, 3.80, 3.00, 4.80, 3.80, 4.40, 2.60, 4.00, 4.60, 3.60],
    [5.00, 5.40, 5.30, 5.20, 4.60, 5.40, 5.10, 4.40, 4.90, 5.20, 4.60, 4.20, 4.90, 4.60],
    [4.10, 3.80, 4.60, 4.10, 3.70, 4.50, 3.80, 4.10, 4.30, 3.80, 3.40, 3.80, 4.20, 4.10],
]

# y ticks and ranges per panel (column A: local, column B: broad)
Y_TICKS_LOCAL = [[0, 1, 2, 3], [0, 2, 4, 6], [0, 1, 2, 3, 4], [0, 1, 2, 3, 4]]
Y_TICKS_BROAD = [[0, 2, 4, 6], [0, 2.5, 5, 7.5], [0, 2, 4, 6], [0, 2, 4, 6]]
Y_RANGE_LOCAL = [[-0.18, 3.78], [-0.30, 7.20], [-0.24, 4.97], [-0.235, 4.93]]
Y_RANGE_BROAD = [[-0.27, 7.70], [-0.35, 9.55], [-0.30, 7.20], [-0.32, 6.79]]

COLORS = ["217,95,2", "230,171,2", "31,120,180", "27,158,119"]

# ---------------------------------------------------------------- layout geometry
W, H = 1188, 706
FONT = "Liberation Sans, Arial, Helvetica, sans-serif"
COL_X = [(86, 568), (678, 1138)]
ROW_Y = [(44, 197), (204, 358), (365, 519), (526, 681)]
X_RANGE = [2005.78, 2021.2]


def px(x):
    return x / W


def py(y):
    return 1 - y / H


local_sets = [FISH_LOCAL, SESSILE_LOCAL, MOBILE_LOCAL, ALGAE_LOCAL]
broad_sets = [FISH_BROAD, SESSILE_BROAD, MOBILE_BROAD, ALGAE_BROAD]

fig = go.Figure()
layout = dict(
    width=W, height=H,
    margin=dict(l=0, r=0, t=0, b=0),
    paper_bgcolor="white", plot_bgcolor="white",
    showlegend=False,
    font=dict(family=FONT, color="#1a1a1a"),
)
shapes = []
annotations = []
TICK_FONT = dict(size=20, color="#1a1a1a")

for col, (sets, ticks, ranges, lw, alpha) in enumerate([
    (local_sets, Y_TICKS_LOCAL, Y_RANGE_LOCAL, 1.0, 0.55),
    (broad_sets, Y_TICKS_BROAD, Y_RANGE_BROAD, 2.0, 0.6),
]):
    x0, x1 = COL_X[col]
    for row in range(4):
        k = col * 4 + row + 1
        xa = "x" if k == 1 else f"x{k}"
        ya = "y" if k == 1 else f"y{k}"
        y0, y1 = ROW_Y[row]
        bottom = row == 3

        layout[f"xaxis{'' if k == 1 else k}"] = dict(
            domain=[px(x0), px(x1)], anchor=ya, range=X_RANGE,
            tickvals=X_TICKS, showticklabels=bottom,
            ticks="outside" if bottom else "", ticklen=4, tickcolor="#333",
            tickfont=TICK_FONT,
            showline=True, linecolor="#333", linewidth=1.2,
            showgrid=False, zeroline=False,
        )
        layout[f"yaxis{'' if k == 1 else k}"] = dict(
            domain=[py(y1), py(y0)], anchor=xa, range=ranges[row],
            tickvals=ticks[row], tickformat=".1f",
            ticks="outside", ticklen=4, tickcolor="#333",
            tickfont=TICK_FONT,
            showline=True, linecolor="#333", linewidth=1.2,
            showgrid=False, zeroline=False,
        )

        # heatwave period band
        shapes.append(dict(
            type="rect", xref=xa, yref=f"{ya} domain",
            x0=MHW_START, x1=MHW_END, y0=0, y1=1,
            fillcolor="#fbdfdf", line=dict(width=0), layer="below",
        ))
        # panel border
        shapes.append(dict(
            type="rect", xref=f"{xa} domain", yref=f"{ya} domain",
            x0=0, x1=1, y0=0, y1=1,
            line=dict(color="#8a8a8a", width=1), fillcolor="rgba(0,0,0,0)",
            layer="above",
        ))

        for series in sets[row]:
            fig.add_trace(go.Scatter(
                x=YEARS, y=series, mode="lines", xaxis=xa, yaxis=ya,
                line=dict(color=f"rgba({COLORS[row]},{alpha})", width=lw),
                hoverinfo="skip",
            ))

        if col == 1:
            # facet strip on the right
            shapes.append(dict(
                type="rect", xref="paper", yref="paper",
                x0=px(1143), x1=px(1189), y0=py(y1), y1=py(y0),
                fillcolor="#d9d9d9", line=dict(color="#7a7a7a", width=1),
            ))
            annotations.append(dict(
                text=GROUPS[row], x=px(1166), y=py((y0 + y1) / 2),
                xref="paper", yref="paper", showarrow=False, textangle=90,
                font=dict(size=16, color="#1a1a1a"),
                xanchor="center", yanchor="middle",
            ))

# panel letters and headings
annotations += [
    dict(text="A", x=px(6), y=py(21), xref="paper", yref="paper", showarrow=False,
         xanchor="left", yanchor="middle", font=dict(size=32, color="#111")),
    dict(text="<b><i>Population variability at local scale</i></b>", x=px(85), y=py(23),
         xref="paper", yref="paper", showarrow=False, xanchor="left", yanchor="middle",
         font=dict(size=21, color="#111")),
    dict(text="B", x=px(606), y=py(21), xref="paper", yref="paper", showarrow=False,
         xanchor="left", yanchor="middle", font=dict(size=32, color="#111")),
    dict(text="<b><i>Comunity variability at broad scale</i></b>", x=px(678), y=py(23),
         xref="paper", yref="paper", showarrow=False, xanchor="left", yanchor="middle",
         font=dict(size=21, color="#111")),
]

y_title = ("Biomass ( <span style='font-size:14px'>log(1 + g · m<sup>−2</sup>))</span>")
for xc in (36, 626):
    annotations.append(dict(
        text=y_title, x=px(xc), y=py(360), xref="paper", yref="paper",
        showarrow=False, textangle=-90, xanchor="center", yanchor="middle",
        font=dict(size=22, color="#111"),
    ))

layout["shapes"] = shapes
layout["annotations"] = annotations
fig.update_layout(**layout)

fig.write_html("out.html")
